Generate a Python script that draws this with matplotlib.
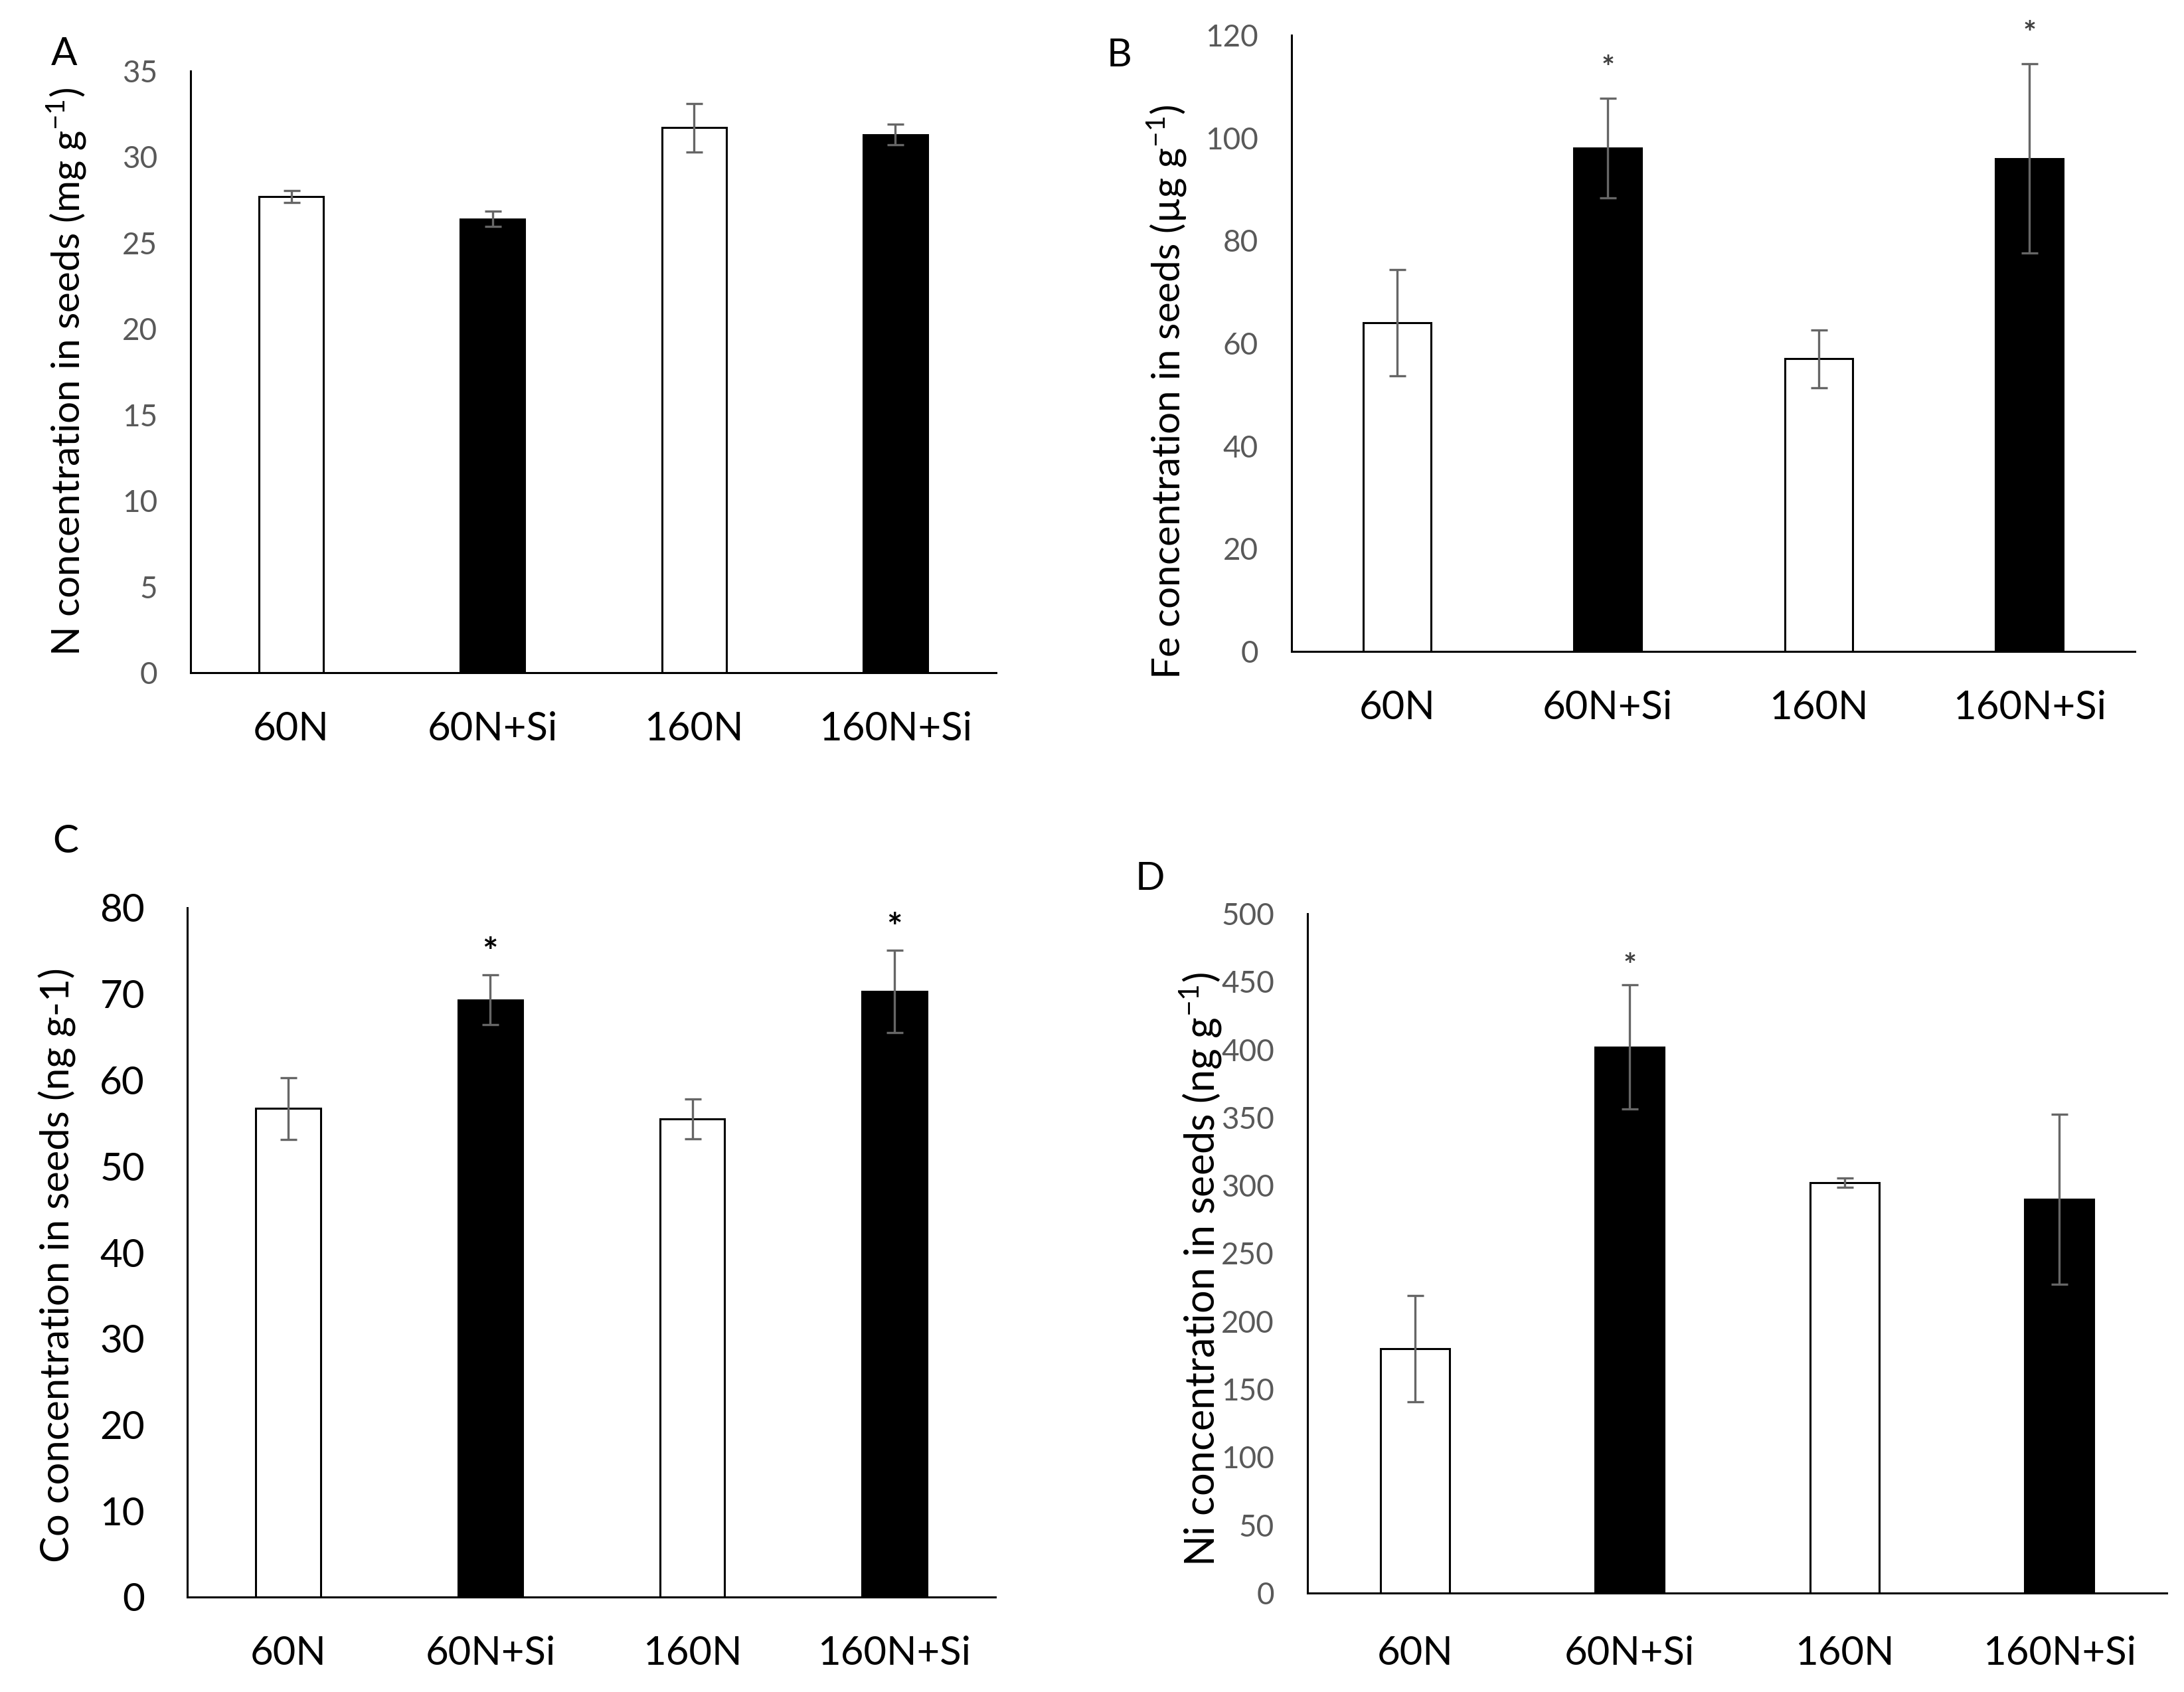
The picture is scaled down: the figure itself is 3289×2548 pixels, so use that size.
import numpy as np
import matplotlib
matplotlib.use('Agg')
import matplotlib.pyplot as plt

plt.rcParams['font.family'] = ['Lato', 'DejaVu Sans']

W, H = 3289, 2548
DPI = 100

cats = ['60N', '60N+Si', '160N', '160N+Si']
bar_colors = ['white', 'black', 'white', 'black']

# values (mean, error)
n_mean = [27.7, 26.4, 31.7, 31.3]
n_err = [0.35, 0.45, 1.4, 0.6]
fe_mean = [64.0, 98.0, 57.0, 96.0]
fe_err = [10.4, 9.7, 5.6, 18.4]
co_mean = [56.7, 69.3, 55.5, 70.3]
co_err = [3.6, 2.9, 2.3, 4.8]
ni_mean = [180.0, 402.0, 302.0, 290.0]
ni_err = [39.0, 45.5, 3.5, 62.6]

fe_sig = [False, True, False, True]
co_sig = [False, True, False, True]
ni_sig = [False, True, False, False]

fig = plt.figure(figsize=(W / DPI, H / DPI), dpi=DPI)


def px_axes(l, r, t, b):
    return fig.add_axes([l / W, 1 - b / H, (r - l) / W, (b - t) / H])


def panel(box, mean, err, ymax, step, sig, tick_fs, tick_col, tick_pad, xpad, star_fs, star_col, star_off):
    ax = px_axes(*box)
    x = np.arange(len(cats))
    ax.bar(x, mean, width=0.32, color=bar_colors, edgecolor='black', linewidth=2.2, zorder=2)
    ax.errorbar(x, mean, yerr=err, fmt='none', ecolor='#666666', elinewidth=2.4,
                capsize=9, capthick=2.4, zorder=3)
    for i, s in enumerate(sig):
        if s:
            ax.annotate('*', (x[i], mean[i] + err[i]), xytext=(0, star_off), textcoords='offset points',
                        ha='center', va='bottom', fontsize=star_fs, color=star_col,
                        fontweight='bold', annotation_clip=False)
    ax.set_xlim(-0.5, len(cats) - 0.5)
    ax.set_ylim(0, ymax)
    ax.set_yticks(np.arange(0, ymax + step / 2, step))
    ax.set_xticks(x)
    ax.set_xticklabels(cats)
    for s in ['top', 'right']:
        ax.spines[s].set_visible(False)
    for s in ['left', 'bottom']:
        ax.spines[s].set_linewidth(2.2)
    ax.tick_params(axis='y', length=0, labelsize=tick_fs, labelcolor=tick_col, pad=tick_pad)
    ax.tick_params(axis='x', length=0, labelsize=43, labelcolor='black', pad=xpad)
    ax.set_facecolor('none')
    return ax


panel((287, 1500, 107, 1013), n_mean, n_err, 35, 5, [False] * 4, 33, '#595959', 36, 42, 34, '#404040', 8)
panel((1945, 3215, 53, 981), fe_mean, fe_err, 120, 20, fe_sig, 33, '#595959', 36, 42, 34, '#404040', 16)
panel((282, 1499, 1367, 2405), co_mean, co_err, 80, 10, co_sig, 42, 'black', 46, 42, 40, 'black', 5)
panel((1969, 3263, 1376, 2399), ni_mean, ni_err, 500, 50, ni_sig, 33, '#595959', 36, 46, 34, '#404040', 4)

# y axis titles
def ylab(x, y, s, fs):
    fig.text(x / W, 1 - y / H, s, rotation=90, ha='center', va='center', fontsize=fs, color='black')

ylab(100, 560, r'N concentration in seeds (mg g$^{\mathregular{-1}}$)', 42)
ylab(1757, 590, r'Fe concentration in seeds (µg g$^{\mathregular{-1}}$)', 42)
ylab(86, 1905, 'Co concentration in seeds (ng g-1)', 43)
ylab(1808, 1912, r'Ni concentration in seeds (ng g$^{\mathregular{-1}}$)', 44)

# panel letters
for (lx, ly, t) in [(97, 82, 'A'), (1686, 84, 'B'), (99, 1268, 'C'), (1732, 1324, 'D')]:
    fig.text(lx / W, 1 - ly / H, t, ha='center', va='center', fontsize=42, color='black')

fig.savefig('out.png', dpi=DPI, facecolor='white')
